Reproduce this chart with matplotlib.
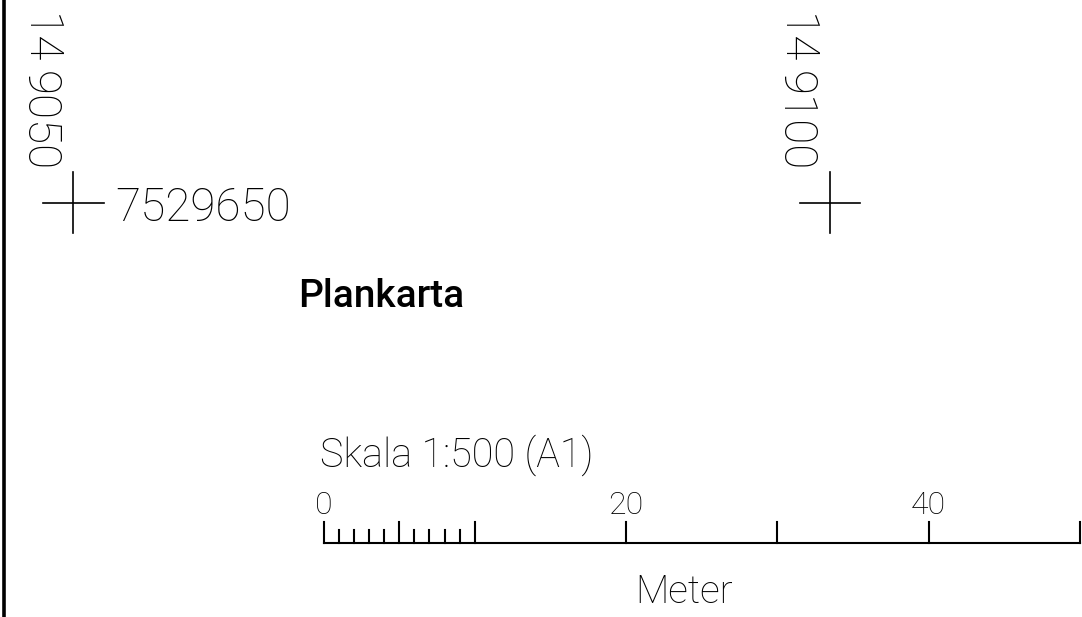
import matplotlib
matplotlib.use('Agg')
import matplotlib.pyplot as plt

# map grid (SWEREF style coordinates, metres)
grid_e = [149050, 149100]
grid_e_labels = ['14 9050', '14 9100']
grid_n = 7529650
grid_n_label = '7529650'

# scale bar, metres
scale_minor = list(range(0, 11))
scale_major = [0, 5, 10, 20, 30, 40, 50]
scale_labels = [0, 20, 40]
scale_title = 'Skala 1:500 (A1)'
scale_unit = 'Meter'
map_title = 'Plankarta'

W, H = 1082, 617
PX = 15.13  # pixels per metre in the output
e_left = grid_e[0] - 73.3 / PX
n_top = grid_n + 202.7 / PX
# scale bar origin
e0 = e_left + 323.5 / PX
n0 = n_top - 543.5 / PX

plt.rcParams['font.family'] = ['Roboto', 'DejaVu Sans']

fig = plt.figure(figsize=(W / 100, H / 100), dpi=100)
ax = fig.add_axes([0, 0, 1, 1])
ax.set_xlim(e_left, e_left + W / PX)
ax.set_ylim(n_top - H / PX, n_top)
ax.set_aspect('equal')
ax.axis('off')

# frame line on the left
ax.axvline(e_left + 4 / PX, color='black', lw=2.6)

# grid crosses
arm = 2.0
for e, lab in zip(grid_e, grid_e_labels):
    ax.plot([e - arm, e + arm], [grid_n, grid_n], color='black', lw=1.2)
    ax.plot([e, e], [grid_n - arm, grid_n + arm], color='black', lw=1.2)
    # label is written in two groups, "14" and the rest, with a small gap
    head, tail = lab.split()
    ax.text(e - 0.86, grid_n + 2.08, tail, rotation=-90, ha='right', va='bottom',
            fontsize=33, fontweight='light')
    ax.text(e - 0.86, grid_n + 2.08 + 7.05, head, rotation=-90, ha='right', va='bottom',
            fontsize=33, fontweight='light')
ax.text(grid_e[0] + 2.78, grid_n - 1.19, grid_n_label, ha='left', va='baseline',
        fontsize=33, fontweight='light')

ax.text(e0 - 1.69, n0 + 15.65, map_title, ha='left', va='baseline',
        fontsize=28, fontweight='medium')

# scale bar
ax.plot([e0 + scale_major[0], e0 + scale_major[-1]], [n0, n0], color='black', lw=1.5)
for m in scale_minor:
    if m not in scale_major:
        ax.plot([e0 + m, e0 + m], [n0, n0 + 0.9], color='black', lw=1.5)
for m in scale_major:
    ax.plot([e0 + m, e0 + m], [n0, n0 + 1.45], color='black', lw=1.5)
for m in scale_labels:
    ax.text(e0 + m, n0 + 1.95, str(m), ha='center', va='baseline',
            fontsize=23, fontweight='light')
ax.text(e0 - 0.23, n0 + 5.08, scale_title, ha='left', va='baseline',
        fontsize=28.5, fontweight='light')
ax.text(e0 + 23.86, n0 - 3.93, scale_unit, ha='center', va='baseline',
        fontsize=28, fontweight='light')

fig.savefig('out.png', dpi=100)
